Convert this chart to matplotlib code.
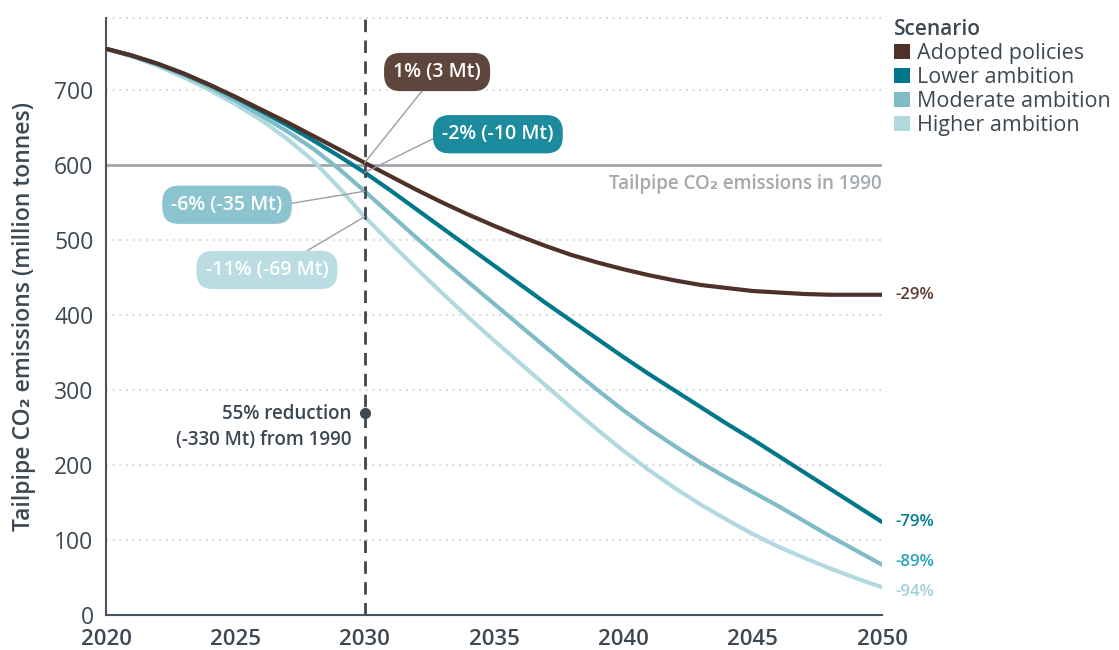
import matplotlib
matplotlib.use("Agg")
import matplotlib.pyplot as plt
from matplotlib.patches import Patch

plt.rcParams['font.family'] = ['Open Sans', 'DejaVu Sans']

years = list(range(2020, 2051))
adopted = [755, 746, 735, 722, 707, 691, 674, 657, 639, 621, 603, 585, 567, 550, 534, 519,
           505, 492, 480, 470, 461, 453, 446, 440, 436, 432, 430, 428, 427, 427, 427]
lower = [755, 746, 735, 722, 707, 690, 672, 653, 633, 612, 590, 566, 541, 516, 491, 466,
         441, 416, 392, 368, 344, 321, 299, 277, 255, 234, 212, 190, 168, 146, 124]
moderate = [755, 745, 734, 720, 704, 686, 666, 645, 622, 595, 565, 534, 503, 473, 444, 415,
            386, 357, 328, 300, 273, 248, 225, 203, 183, 164, 145, 125, 105, 86, 67]
higher = [755, 745, 732, 717, 700, 681, 660, 635, 606, 570, 531, 496, 462, 429, 397, 366,
          336, 306, 276, 247, 219, 193, 169, 147, 127, 108, 91, 76, 62, 49, 37]

scenarios = ["Adopted policies", "Lower ambition", "Moderate ambition", "Higher ambition"]
series = [adopted, lower, moderate, higher]
colors = ["#4e3128", "#00788a", "#7fbcc8", "#b1d9df"]
box_colors = ["#5e463c", "#1b8b9d", "#8bc3cf", "#badde3"]
end_colors = ["#5a3a2e", "#007e8f", "#26a3b5", "#9fd1db"]
end_labels = ["-29%", "-79%", "-89%", "-94%"]
end_label_y = [427, 124, 71, 31]

box_labels = ["1% (3 Mt)", "-2% (-10 Mt)", "-6% (-35 Mt)", "-11% (-69 Mt)"]
box_pos = [(2032.8, 724), (2035.15, 641), (2024.68, 547), (2026.22, 460)]
box_relpos = [(0.41, 0.0), (0.0, 0.5), (1.0, 0.5), (0.7, 1.0)]

level_1990 = 600
target_2030 = 270
yticks = [0, 100, 200, 300, 400, 500, 600, 700]
xticks = [2020, 2025, 2030, 2035, 2040, 2045, 2050]

text_dark = "#3d4852"
grid_col = "#c9cdd1"

fig = plt.figure(figsize=(11.19, 6.5), dpi=100)
ax = fig.add_axes([106/1119, 35/650, 776/1119, 597/650])
ax.set_xlim(2020, 2050)
ax.set_ylim(0, 796)

for yv in yticks[1:]:
    if yv != level_1990:
        ax.axhline(yv, color=grid_col, lw=1.2, ls=(0, (1, 3)), zorder=1)
ax.axhline(796, color=grid_col, lw=1.2, ls=(0, (1, 3)), zorder=1, clip_on=False)
ax.axhline(level_1990, color="#a2a6aa", lw=2, zorder=2)
ax.text(2050, 575, "Tailpipe CO₂ emissions in 1990", color="#a4a9ae", fontsize=13.5,
        fontweight="semibold", ha="right", va="center")

ax.axvline(2030, color=text_dark, lw=2, ls=(0, (4.5, 3)), zorder=6)
ax.plot([2030], [target_2030], "o", color=text_dark, ms=7, zorder=7)
ax.text(2029.5, target_2030 + 11, "55% reduction\n(-330 Mt) from 1990", color=text_dark,
        fontsize=13.5, fontweight="semibold", ha="right", va="top", linespacing=1.4)

for s, c in zip(series[::-1], colors[::-1]):
    ax.plot(years, s, color=c, lw=3, solid_capstyle="round", zorder=4)

for lab, yv, c in zip(end_labels, end_label_y, end_colors):
    ax.text(2050.5, yv, lab, color=c, fontsize=12, fontweight="semibold", ha="left", va="center",
            clip_on=False)

for lab, pos, s, bc, rp in zip(box_labels, box_pos, series, box_colors, box_relpos):
    ax.annotate(lab, xy=(2030, s[10]), xytext=pos, textcoords="data", ha="center", va="center",
                color="white", fontsize=14, fontweight="semibold",
                bbox=dict(boxstyle="round,pad=0.47,rounding_size=0.85", fc=bc, ec="none"),
                arrowprops=dict(arrowstyle="-", color="#9a9ea2", lw=1, relpos=rp,
                                shrinkA=0, shrinkB=0),
                zorder=8)

for side in ["top", "right"]:
    ax.spines[side].set_visible(False)
for side in ["left", "bottom"]:
    ax.spines[side].set_color("#4a545e")
    ax.spines[side].set_linewidth(1.5)

ax.set_yticks(yticks)
ax.set_yticklabels([str(v) for v in yticks], fontsize=16.5, color=text_dark)
ax.set_xticks(xticks)
ax.set_xticklabels([str(v) for v in xticks], fontsize=16, color=text_dark, fontweight="semibold")
ax.tick_params(axis="y", length=0, pad=9)
ax.tick_params(axis="x", length=0, pad=10)
ax.set_ylabel("Tailpipe CO₂ emissions (million tonnes)", fontsize=16.5, color=text_dark,
              fontweight="semibold", labelpad=13)

handles = [Patch(facecolor=c, edgecolor="none") for c in colors]
leg = fig.legend(handles, scenarios, title="Scenario", loc="upper left",
                 bbox_to_anchor=(894/1119, 1 - 19/650), frameon=False, fontsize=15.5,
                 title_fontproperties={"size": 15, "weight": "semibold"},
                 handlelength=0.75, handleheight=0.75, handletextpad=0.3,
                 labelspacing=0.14, borderaxespad=0, borderpad=0)
leg._legend_box.align = "left"
for t in leg.get_texts():
    t.set_color(text_dark)
leg.get_title().set_color(text_dark)

fig.savefig("out.png", dpi=100)
